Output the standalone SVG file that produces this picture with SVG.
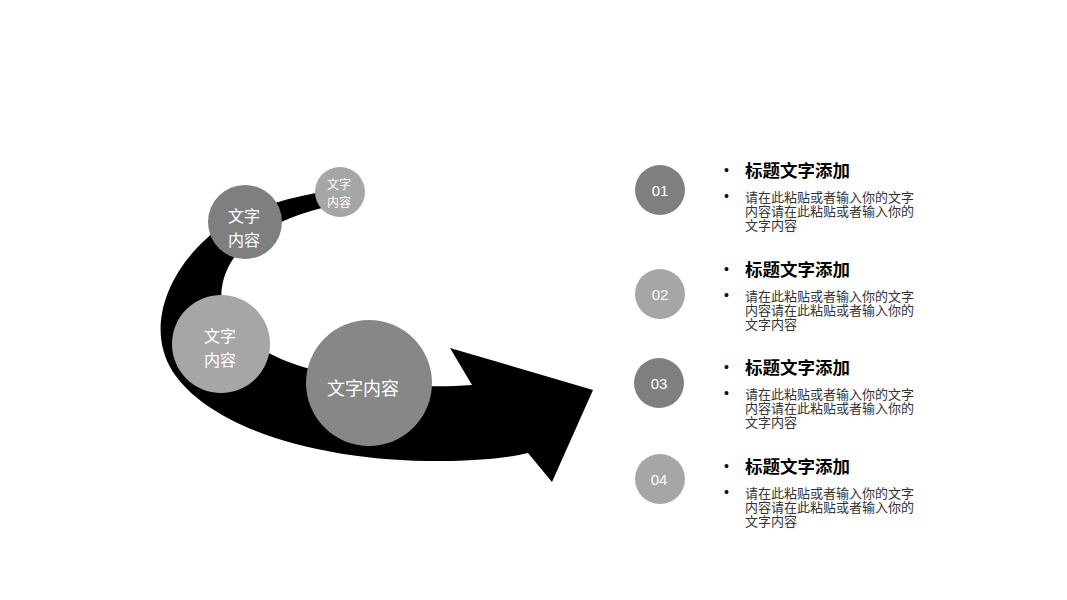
<svg xmlns="http://www.w3.org/2000/svg" width="1067" height="600" viewBox="0 0 1067 600">
<style>
.cjk{font-family:"Liberation Sans","Noto Sans CJK SC",sans-serif}
.ct{fill:#ffffff;text-anchor:middle;dominant-baseline:central}
.num{fill:#ffffff;text-anchor:middle;dominant-baseline:central;font-size:15px}
.tt{fill:#000000;font-size:17.5px;font-weight:bold}
.bd{fill:#333333;font-size:13px}
.bl{fill:#000000;font-size:14px}
.dk{fill:#7f7f7f}
.lt{fill:#a6a6a6}
</style>
<rect width="1067" height="600" fill="#ffffff"/>
<g id="connectors">
<path d="M 322 192 C 280 199, 232 214, 205 240 C 166 276, 146 330, 173 372 C 213 432, 330 463, 450 461 C 490 460, 512 457, 528 453 L 552 482 L 593 390 L 450 348 L 472 385 C 420 389, 356 384, 300 366 C 252 350, 216 322, 222 287 C 227 256, 252 226, 322 208 Z" fill="#000000"/>
</g>
<g id="node-c1" class="cjk">
<circle cx="340" cy="192" r="25" class="lt"/>
<text x="339" y="185" class="ct" font-size="12">文字</text>
<text x="339" y="203" class="ct" font-size="12">内容</text>
</g>
<g id="node-c2" class="cjk">
<circle cx="245" cy="222" r="37" class="dk"/>
<text x="244" y="216" class="ct" font-size="16">文字</text>
<text x="244" y="240" class="ct" font-size="16">内容</text>
</g>
<g id="node-c3" class="cjk">
<circle cx="221" cy="344" r="49" class="lt"/>
<text x="220" y="336" class="ct" font-size="16">文字</text>
<text x="220" y="360" class="ct" font-size="16">内容</text>
</g>
<g id="node-c4" class="cjk">
<circle cx="369" cy="383" r="63" fill="#878787"/>
<text x="363" y="389" class="ct" font-size="18">文字内容</text>
</g>
<g id="item-01" class="cjk">
<circle cx="660" cy="190" r="25" class="dk"/>
<text x="660" y="190" class="num">01</text>
<text x="724" y="175" class="bl">•</text>
<text x="745" y="177" class="tt">标题文字添加</text>
<text x="724" y="201" class="bl">•</text>
<text x="745" y="202" class="bd">请在此粘贴或者输入你的文字</text>
<text x="745" y="216" class="bd">内容请在此粘贴或者输入你的</text>
<text x="745" y="230" class="bd">文字内容</text>
</g>
<g id="item-02" class="cjk">
<circle cx="660" cy="294" r="25" class="lt"/>
<text x="660" y="294" class="num">02</text>
<text x="724" y="274" class="bl">•</text>
<text x="745" y="276" class="tt">标题文字添加</text>
<text x="724" y="300" class="bl">•</text>
<text x="745" y="301" class="bd">请在此粘贴或者输入你的文字</text>
<text x="745" y="315" class="bd">内容请在此粘贴或者输入你的</text>
<text x="745" y="329" class="bd">文字内容</text>
</g>
<g id="item-03" class="cjk">
<circle cx="659" cy="383" r="25" class="dk"/>
<text x="659" y="383" class="num">03</text>
<text x="724" y="372" class="bl">•</text>
<text x="745" y="374" class="tt">标题文字添加</text>
<text x="724" y="398" class="bl">•</text>
<text x="745" y="399" class="bd">请在此粘贴或者输入你的文字</text>
<text x="745" y="413" class="bd">内容请在此粘贴或者输入你的</text>
<text x="745" y="427" class="bd">文字内容</text>
</g>
<g id="item-04" class="cjk">
<circle cx="660" cy="479" r="25" class="lt"/>
<text x="659" y="479" class="num">04</text>
<text x="724" y="471" class="bl">•</text>
<text x="745" y="473" class="tt">标题文字添加</text>
<text x="724" y="497" class="bl">•</text>
<text x="745" y="498" class="bd">请在此粘贴或者输入你的文字</text>
<text x="745" y="512" class="bd">内容请在此粘贴或者输入你的</text>
<text x="745" y="526" class="bd">文字内容</text>
</g>
</svg>
